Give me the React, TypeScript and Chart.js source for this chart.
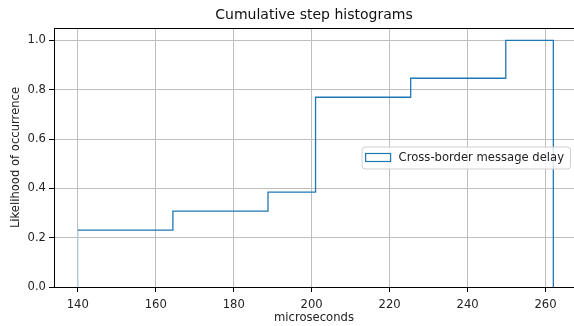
import React, { useEffect, useRef } from "react";
import { Chart, registerables } from "chart.js";

Chart.register(...registerables);

const TITLE = "Cumulative step histograms";
const X_LABEL = "microseconds";
const Y_LABEL = "Likelihood of occurrence";
const SERIES_LABEL = "Cross-border message delay";

const binEdges = [140, 152.2, 164.4, 176.6, 188.8, 201.0, 213.2, 225.4, 237.6, 249.8, 262.0];
const cumulative = [0.2308, 0.2308, 0.3077, 0.3077, 0.3846, 0.7692, 0.7692, 0.8462, 0.8462, 1.0];
const xTicks = [140, 160, 180, 200, 220, 240, 260];
const yTicks = [0.0, 0.2, 0.4, 0.6, 0.8, 1.0];

const FONT = "'DejaVu Sans', sans-serif";
const FS = 11.6;
const BLUE = "#1f77b4";
const GRID = "#bdbdbd";

function buildPoints() {
  const pts: { x: number; y: number }[] = [{ x: binEdges[0], y: 0 }];
  for (let i = 0; i < cumulative.length; i++) {
    pts.push({ x: binEdges[i], y: cumulative[i] });
    pts.push({ x: binEdges[i + 1], y: cumulative[i] });
  }
  pts.push({ x: binEdges[binEdges.length - 1], y: 0 });
  return pts;
}

const framePlugin = {
  id: "frame",
  afterDatasetsDraw(chart: any) {
    const { ctx, chartArea } = chart;
    ctx.save();
    ctx.strokeStyle = "#000";
    ctx.lineWidth = 1;
    ctx.beginPath();
    const t = Math.round(chartArea.top) + 0.5;
    ctx.moveTo(chartArea.left, t);
    ctx.lineTo(chartArea.right, t);
    ctx.stroke();
    ctx.font = `14px ${FONT}`;
    ctx.fillStyle = "#111";
    ctx.textAlign = "center";
    ctx.textBaseline = "middle";
    ctx.fillText(TITLE, (chartArea.left + chartArea.right) / 2, 15.5);
    ctx.restore();
  },
};

const legendPlugin = {
  id: "boxLegend",
  afterDraw(chart: any) {
    const { ctx, chartArea } = chart;
    ctx.save();
    ctx.font = `${FS}px ${FONT}`;
    const label = chart.data.datasets[0].label as string;
    const tw = ctx.measureText(label).width;
    const h = 22;
    const right = chartArea.right - 4;
    const w = 4 + 25 + 8 + tw + 6;
    const left = right - w;
    const cy = (chartArea.top + chartArea.bottom) / 2;
    const top = cy - h / 2;
    ctx.beginPath();
    if (ctx.roundRect) ctx.roundRect(left + 0.5, top + 0.5, w, h, 3);
    else ctx.rect(left + 0.5, top + 0.5, w, h);
    ctx.fillStyle = "rgba(255,255,255,0.8)";
    ctx.fill();
    ctx.strokeStyle = "#d0d0d0";
    ctx.lineWidth = 1;
    ctx.stroke();
    ctx.strokeStyle = BLUE;
    ctx.lineWidth = 1.2;
    ctx.strokeRect(left + 4, cy - 4, 25, 8);
    ctx.fillStyle = "#222";
    ctx.textBaseline = "middle";
    ctx.textAlign = "left";
    ctx.fillText(label, left + 4 + 25 + 8, cy);
    ctx.restore();
  },
};

export default function App() {
  const ref = useRef<HTMLCanvasElement | null>(null);
  useEffect(() => {
    if (!ref.current) return;
    const chart = new Chart(ref.current, {
      type: "line",
      data: {
        datasets: [
          {
            label: SERIES_LABEL,
            data: buildPoints(),
            borderColor: BLUE,
            borderWidth: 1.3,
            pointRadius: 0,
            fill: false,
            tension: 0,
            segment: {
              borderColor: (c: any) => (c.p0DataIndex === 0 ? "#b4cbe0" : BLUE),
            },
          },
        ],
      },
      plugins: [framePlugin, legendPlugin],
      options: {
        animation: false,
        responsive: false,
        layout: { padding: { left: 0, right: 0, top: 28, bottom: 0 } },
        plugins: {
          legend: { display: false },
          tooltip: { enabled: false },
          title: { display: false },
        },
        scales: {
          x: {
            type: "linear",
            min: 133.9,
            max: 267.3,
            afterFit: (s: any) => {
              s.height = 39;
            },
            afterBuildTicks: (s: any) => {
              s.ticks = xTicks.map((v) => ({ value: v }));
            },
            ticks: {
              color: "#222",
              font: { family: FONT, size: FS },
              padding: 6,
              maxRotation: 0,
              autoSkip: false,
              callback: (v: any) => String(v),
            },
            grid: { color: GRID, lineWidth: 1, tickLength: 5, tickColor: "#000" },
            border: { display: true, color: "#000", width: 1 },
            title: {
              display: true,
              text: X_LABEL,
              color: "#222",
              font: { family: FONT, size: FS },
              padding: { top: 0, bottom: 1 },
            },
          },
          y: {
            type: "linear",
            min: 0,
            max: 1.05,
            afterFit: (s: any) => {
              s.width = 54;
            },
            afterBuildTicks: (s: any) => {
              s.ticks = yTicks.map((v) => ({ value: v }));
            },
            ticks: {
              color: "#222",
              font: { family: FONT, size: FS },
              padding: 3,
              autoSkip: false,
              callback: (v: any) => Number(v).toFixed(1),
            },
            grid: { color: GRID, lineWidth: 1, tickLength: 5, tickColor: "#000" },
            border: { display: true, color: "#000", width: 1 },
            title: {
              display: true,
              text: Y_LABEL,
              color: "#222",
              font: { family: FONT, size: FS },
              padding: { top: 9, bottom: 0 },
            },
          },
        },
      },
    } as any);
    return () => chart.destroy();
  }, []);
  return (
    <div style={{ position: "absolute", left: 0, top: 0, width: 574, height: 326 }}>
      <canvas ref={ref} width={574} height={326} />
    </div>
  );
}
